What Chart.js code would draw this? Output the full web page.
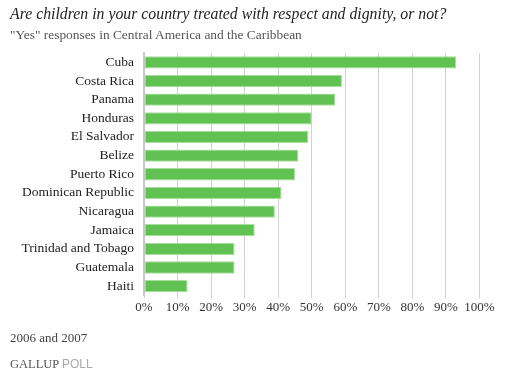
<!DOCTYPE html>
<html><head><meta charset="utf-8">
<script src="https://cdn.jsdelivr.net/npm/chart.js@4/dist/chart.umd.min.js"></script>
<style>
html,body{margin:0;padding:0;background:#fff;}
#wrap{position:relative;width:505px;height:384px;overflow:hidden;}
canvas{position:absolute;left:0;top:0;}
.t{position:absolute;white-space:nowrap;font-family:"Liberation Serif",serif;}
#title{left:10px;top:5px;font-size:15.8px;font-style:italic;color:#222;}
#sub{left:10px;top:27px;font-size:13.4px;color:#555;}
#foot{left:10px;top:330px;font-size:13px;color:#444;}
#brand{left:10px;top:357px;font-size:12.5px;color:#555;}
#brand span{font-family:"Liberation Sans",sans-serif;color:#aaa;font-size:12px;}
</style></head>
<body><div id="wrap">
<canvas id="c" width="505" height="384"></canvas>
<div class="t" id="title">Are children in your country treated with respect and dignity, or not?</div>
<div class="t" id="sub">"Yes" responses in Central America and the Caribbean</div>
<div class="t" id="foot">2006 and 2007</div>
<div class="t" id="brand">GALLUP <span>POLL</span></div>
</div>
<script>
const categories = ["Cuba","Costa Rica","Panama","Honduras","El Salvador","Belize","Puerto Rico","Dominican Republic","Nicaragua","Jamaica","Trinidad and Tobago","Guatemala","Haiti"];
const yesValues = [93,59,57,50,49,46,45,41,39,33,27,27,13];
const tickValues = [0,10,20,30,40,50,60,70,80,90,100];

new Chart(document.getElementById('c'), {
  type: 'bar',
  data: {
    labels: categories,
    datasets: [{
      data: yesValues,
      backgroundColor: '#61c152',
      borderColor: '#a8e09c',
      borderWidth: 1,
      borderSkipped: false,
      barPercentage: 0.66,
      categoryPercentage: 1.0
    }]
  },
  options: {
    indexAxis: 'y',
    responsive: false,
    animation: false,
    layout: { padding: { top: 53, right: 25.5, left: 0, bottom: 0 } },
    plugins: { legend: { display: false }, tooltip: { enabled: false } },
    scales: {
      x: {
        min: 0, max: 100,
        afterBuildTicks: s => { s.ticks = tickValues.map(v => ({ value: v })); },
        afterFit: s => { s.height = 88.5; },
        grid: { color: '#d2d2d2', lineWidth: 1, tickLength: 3, drawTicks: true },
        border: { display: false },
        ticks: {
          padding: 1,
          color: '#333',
          maxRotation: 0,
          minRotation: 0,
          autoSkip: false,
          font: { family: 'Liberation Serif', size: 13 },
          callback: v => v + '%'
        }
      },
      y: {
        afterFit: s => { s.width = 144; },
        grid: { display: false },
        border: { display: true, color: '#c8c8c8', width: 2 },
        ticks: {
          padding: 2,
          autoSkip: false,
          color: '#222',
          font: { family: 'Liberation Serif', size: 13.5 }
        }
      }
    }
  }
});
</script>
</body></html>
